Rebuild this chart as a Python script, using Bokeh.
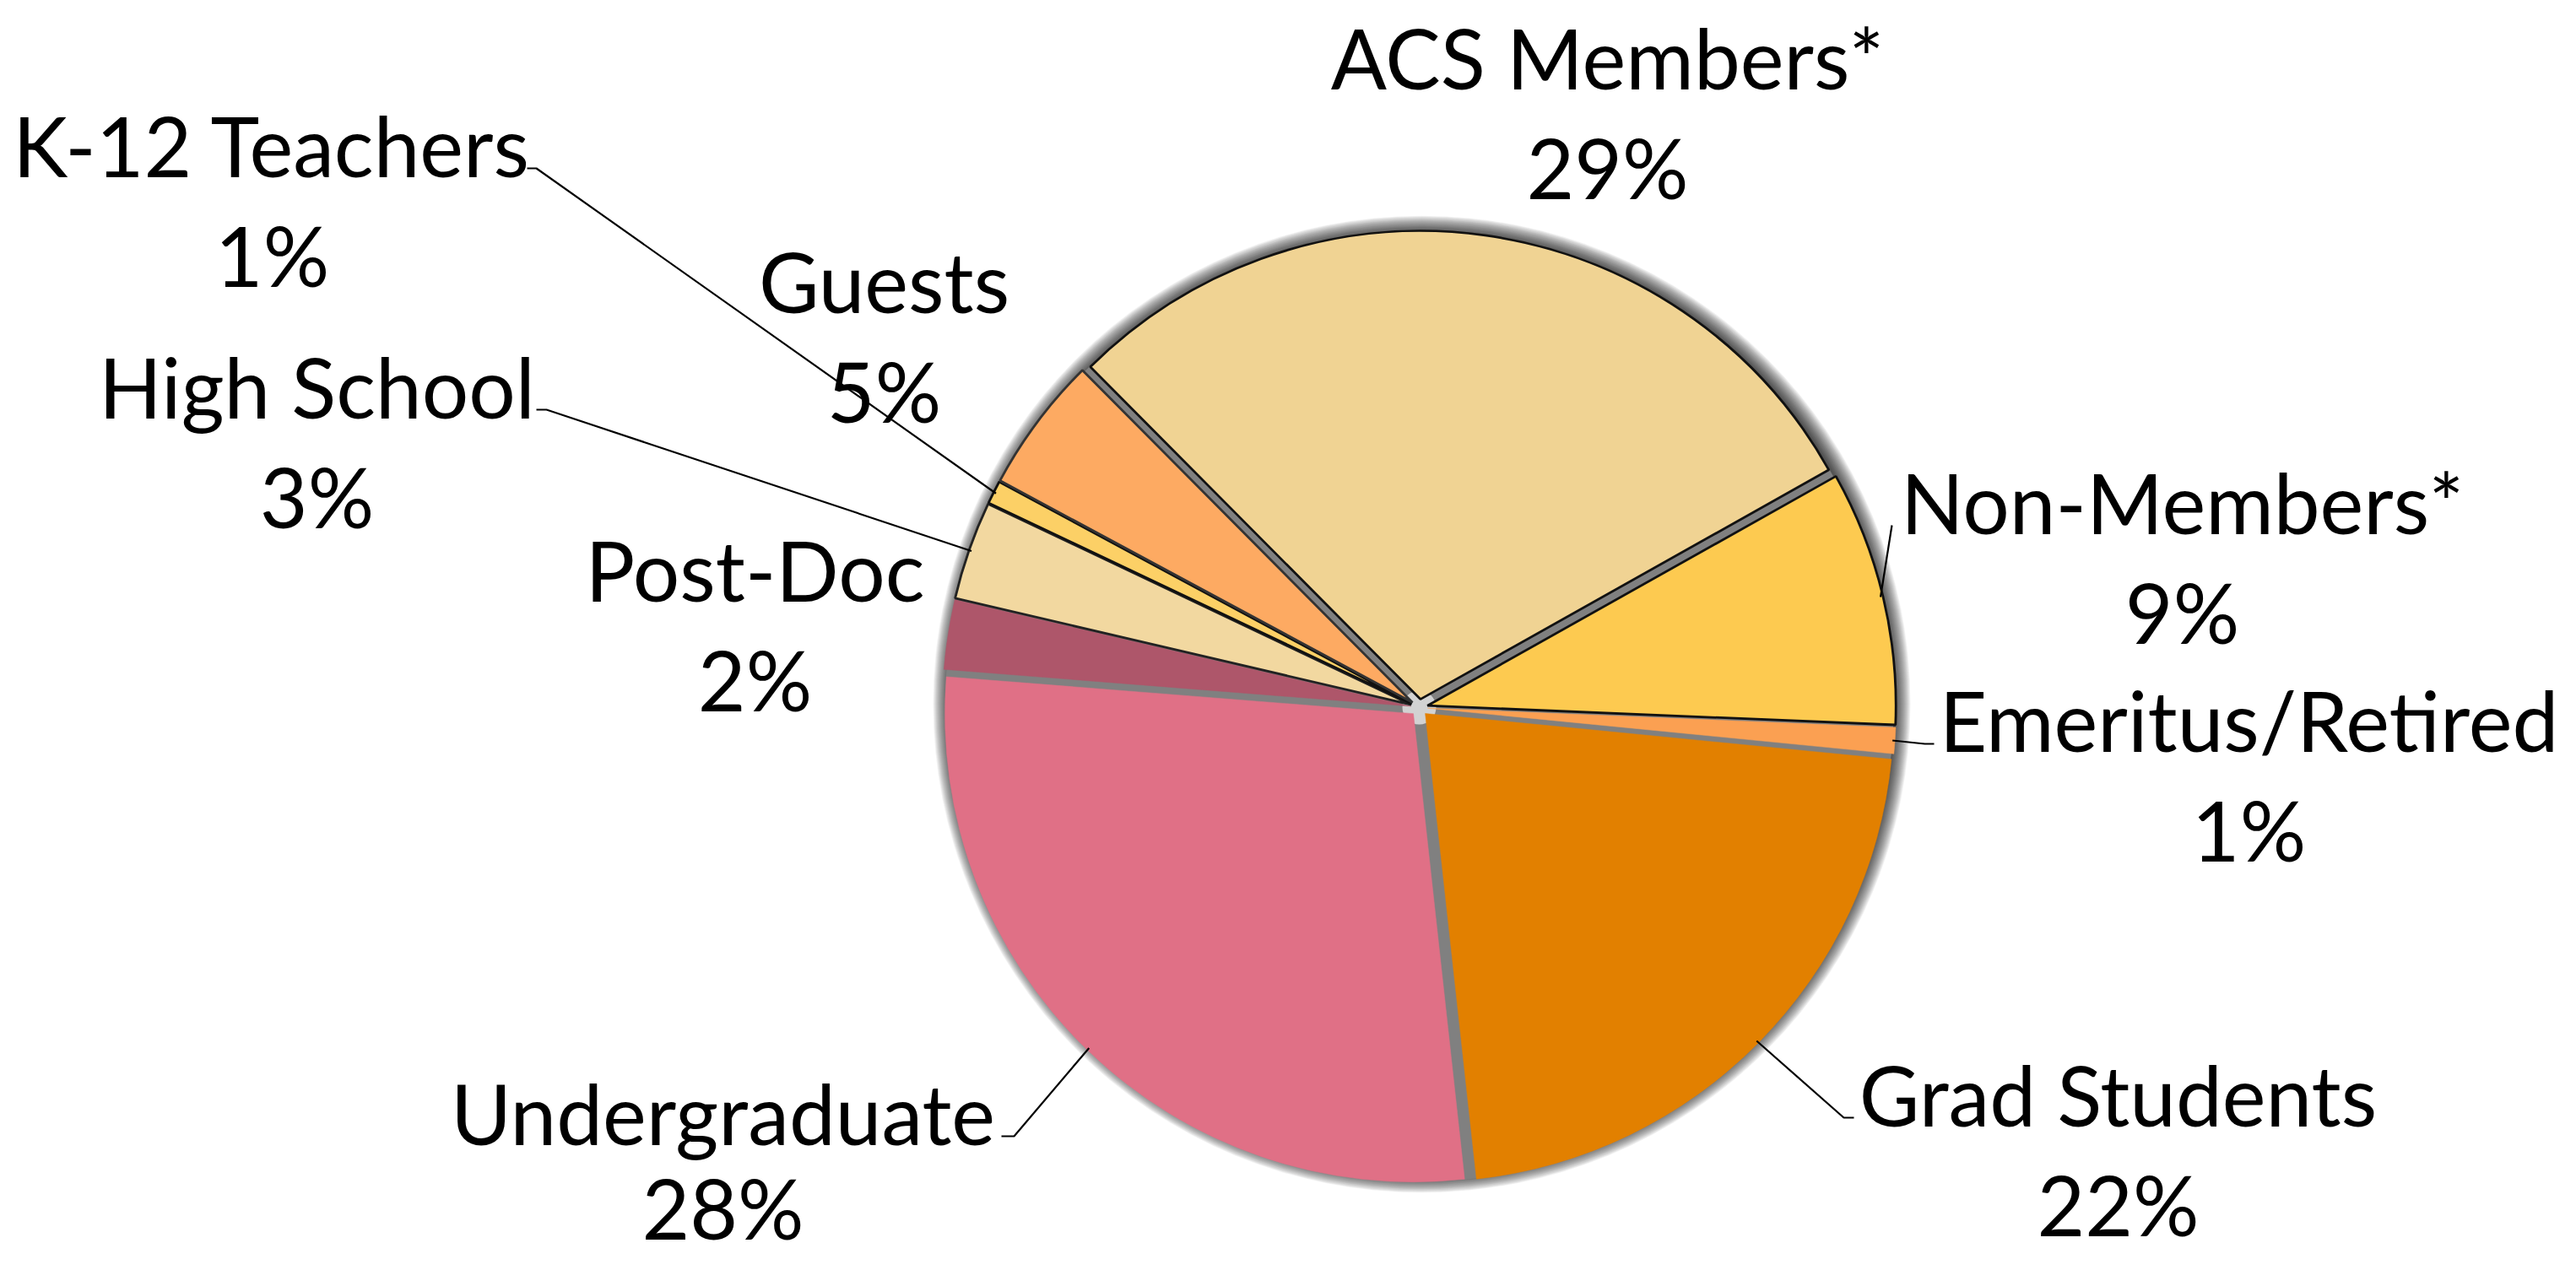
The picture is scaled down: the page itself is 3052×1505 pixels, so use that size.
import math
from bokeh.plotting import figure
from bokeh.models import Range1d, ColumnDataSource
from bokeh.core.properties import value
from bokeh.embed import file_html
from bokeh.resources import INLINE

# ---------------- data ----------------
categories = ["ACS Members*", "Non-Members*", "Emeritus/Retired", "Grad Students",
              "Undergraduate", "Post-Doc", "High School", "K-12 Teachers", "Guests"]
shares = [29.3, 8.8, 0.9, 21.7, 28.0, 2.4, 3.4, 0.8, 4.7]
colors = ["#F0D393", "#FDCA50", "#FBA052", "#E28000", "#E07086",
          "#AE566A", "#F2D8A0", "#FCD066", "#FDAA62"]
outline = ["#111111", "#111111", None, None, None, None, "#222222", "#111111", "#333333"]

# ---------------- layout ----------------
W, H = 3036, 1489
def Y(yref):
    return 1505 - yref

CX, CY = 1689, Y(846)
R = 555
EXPL = 10
START_CLOCK = -44.8  # degrees clockwise from 12 o'clock where first slice begins
TEXT_SHIFT = -28     # correction for text baseline placement

# label anchor (centre x, baseline of name line in page px)
label_x = [1912, 2593, 2672, 2517, 864, 902, 383, 330, 1055]
label_base = [103, 630, 888, 1332, 1354, 710, 493, 207, 368]
pct_gap = [130, 130, 130, 130, 112, 130, 130, 130, 130]
# leader: (label-side start x, elbow x, y) or None
leaders = [None,
           (2249, 2249, 630),
           (2299, 2288, 889),
           (2204, 2192, 1332),
           (1194, 1209, 1354),
           None,
           (643, 655, 493),
           (632, 643, 207),
           None]

p = figure(width=W, height=H, x_range=Range1d(8, 8 + W), y_range=Range1d(8, 8 + H),
           output_backend="svg", toolbar_location=None, min_border=0,
           x_axis_type=None, y_axis_type=None)
p.grid.visible = False
p.outline_line_color = None
p.background_fill_color = "white"
p.border_fill_color = "white"

total = sum(shares)
cum = 0.0
wedges = dict(x=[], y=[], s=[], e=[], color=[], lc=[], lw=[])
mids = []
for v, c, oc in zip(shares, colors, outline):
    a0 = START_CLOCK + cum / total * 360.0
    a1 = a0 + v / total * 360.0
    cum += v
    am = 0.5 * (a0 + a1)
    mids.append(am)
    ox = EXPL * math.sin(math.radians(am))
    oy = EXPL * math.cos(math.radians(am))
    wedges["x"].append(CX + ox)
    wedges["y"].append(CY + oy)
    wedges["s"].append(math.radians(90 - a1))
    wedges["e"].append(math.radians(90 - a0))
    wedges["color"].append(c)
    wedges["lc"].append(oc if oc else c)
    wedges["lw"].append(2.8 if oc else 0.5)

# soft shadow halo (slightly stronger towards the upper right)
for k in range(20, 0, -1):
    p.circle(x=[CX + 3], y=[CY + 4], radius=R + EXPL + k - 6, fill_color="black",
             fill_alpha=0.05, line_color=None)
# grey base showing in the gaps
p.circle(x=[CX], y=[CY], radius=R + EXPL - 3, fill_color="#808080", line_color=None)
p.circle(x=[CX], y=[CY], radius=20, fill_color="#d2d2d2", line_color=None)

src = ColumnDataSource(wedges)
p.wedge(x="x", y="y", radius=R, start_angle="s", end_angle="e", source=src,
        fill_color="color", line_color="lc", line_width="lw")

# leader lines
for i, ld in enumerate(leaders):
    if ld is None:
        continue
    am = math.radians(mids[i])
    ex = CX + (R + EXPL - 3) * math.sin(am)
    ey = CY + (R + EXPL - 3) * math.cos(am)
    sx, elx, ly = ld
    p.line(x=[sx, elx, ex], y=[Y(ly), Y(ly), ey], line_color="black", line_width=2.2)

# labels
pct = [f"{round(v)}%" for v in shares]
lab = ColumnDataSource(dict(x=label_x, yn=[Y(b + TEXT_SHIFT) for b in label_base],
                            yp=[Y(b + g + TEXT_SHIFT) for b, g in zip(label_base, pct_gap)],
                            name=categories, pct=pct))
common = dict(text_font=value("Lato"), text_font_size="98px", text_align="center",
              text_baseline="alphabetic", text_color="black", source=lab)
p.text(x="x", y="yn", text="name", **common)
p.text(x="x", y="yp", text="pct", **common)

open("out.html", "w").write(file_html(p, INLINE))
